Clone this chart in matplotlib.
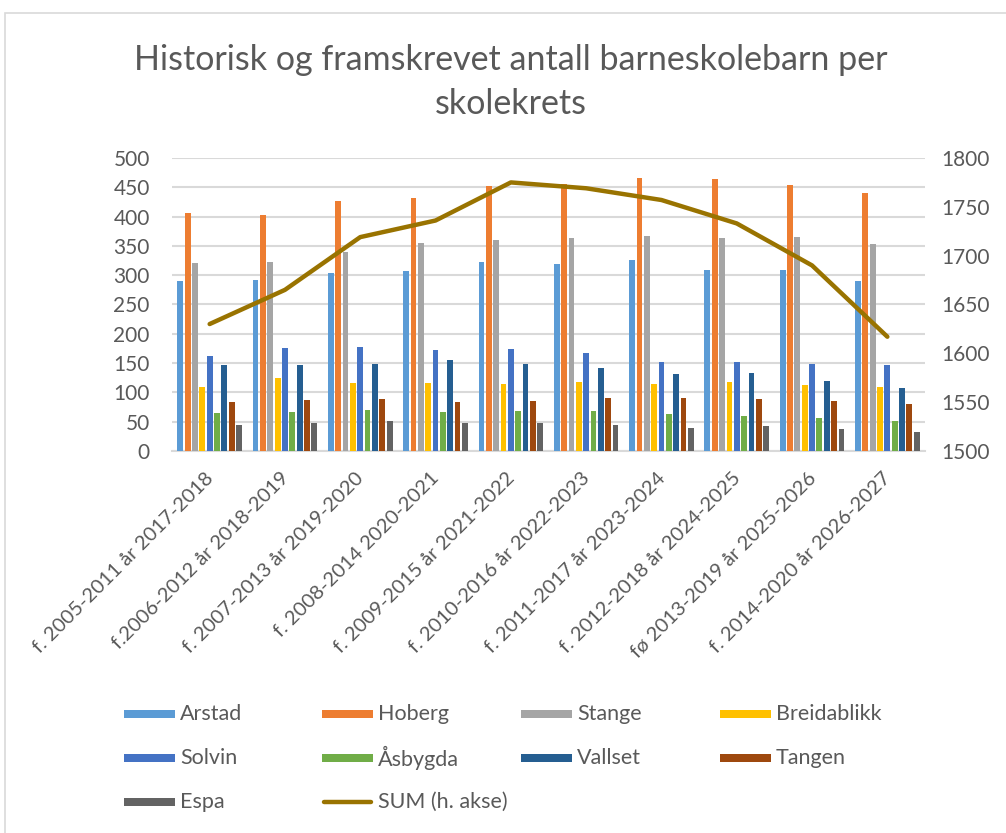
import matplotlib
matplotlib.use("Agg")
import matplotlib.pyplot as plt
import numpy as np
from matplotlib.lines import Line2D
from matplotlib.patches import Rectangle
from matplotlib.transforms import ScaledTranslation

plt.rcParams['font.family'] = ['Lato', 'DejaVu Sans']

categories = [
    "f. 2005-2011 år 2017-2018",
    "f.2006-2012 år 2018-2019",
    "f. 2007-2013 år 2019-2020",
    "f. 2008-2014 2020-2021",
    "f. 2009-2015 år 2021-2022",
    "f. 2010-2016 år 2022-2023",
    "f. 2011-2017 år 2023-2024",
    "f. 2012-2018 år 2024-2025",
    "fø 2013-2019 år 2025-2026",
    "f. 2014-2020 år 2026-2027",
]

arstad      = [290, 292, 303, 308, 322, 319, 326, 309, 309, 290]
hoberg      = [406, 403, 426, 432, 453, 456, 466, 464, 454, 441]
stange      = [321, 323, 339, 355, 360, 364, 367, 363, 365, 354]
breidablikk = [110, 124, 116, 116, 114, 118, 114, 118, 113, 110]
solvin      = [162, 176, 177, 173, 174, 167, 152, 152, 148, 147]
asbygda     = [65, 66, 70, 66, 68, 68, 63, 59, 57, 51]
vallset     = [146, 146, 148, 155, 148, 141, 132, 133, 120, 108]
tangen      = [83, 87, 88, 84, 85, 90, 91, 89, 86, 80]
espa        = [45, 47, 51, 48, 47, 45, 40, 42, 37, 33]
sum_total   = [1630, 1665, 1719, 1736, 1775, 1769, 1757, 1733, 1690, 1617]

series_names = ["Arstad", "Hoberg", "Stange", "Breidablikk", "Solvin",
                "Åsbygda", "Vallset", "Tangen", "Espa"]
series_values = [arstad, hoberg, stange, breidablikk, solvin,
                 asbygda, vallset, tangen, espa]
colors = ["#5B9BD5", "#ED7D31", "#A5A5A5", "#FFC000", "#4472C4",
          "#70AD47", "#255E91", "#9E480E", "#636363"]
sum_label = "SUM (h. akse)"
sum_color = "#997300"

text_color = "#595959"
grid_color = "#D9D9D9"

W, H = 1006, 833
fig = plt.figure(figsize=(W / 100, H / 100), dpi=100)
fig.patch.set_facecolor("white")

# chart frame
fig.add_artist(Rectangle((5 / W, -0.05), 1.1, 1 - 13 / H + 0.05,
                         transform=fig.transFigure, fill=False,
                         edgecolor="#D9D9D9", lw=1.2))

ax = fig.add_axes([172 / W, 1 - 451 / H, (925 - 172) / W, (451 - 158) / H])
x = np.arange(len(categories))
n = len(series_names)
pitch = 0.0975
width = 0.077
for i, (name, vals, c) in enumerate(zip(series_names, series_values, colors)):
    ax.bar(x + (i - (n - 1) / 2) * pitch, vals, width=width, color=c,
           label=name, zorder=3)

ax.set_xlim(-0.5, len(categories) - 0.5)
ax.set_ylim(0, 500)
ax.set_yticks(np.arange(0, 501, 50))
ax.yaxis.grid(True, color=grid_color, lw=1.5, zorder=0)
ax.set_axisbelow(True)
for s in ["top", "left", "right"]:
    ax.spines[s].set_visible(False)
ax.spines["bottom"].set_color(grid_color)
ax.spines["bottom"].set_linewidth(1.5)
ax.tick_params(axis="y", length=0, pad=16, labelsize=15, labelcolor=text_color)
ax.set_xticks(x)
ax.set_xticklabels(categories, rotation=45, ha="right", va="top",
                   rotation_mode="anchor", fontsize=14.5, color=text_color)
ax.tick_params(axis="x", length=0, pad=13)
offset = ScaledTranslation(-5 / 100, 0 / 100, fig.dpi_scale_trans)
for lbl in ax.get_xticklabels():
    lbl.set_transform(lbl.get_transform() + offset)

ax2 = ax.twinx()
ax2.plot(x, sum_total, color=sum_color, lw=3.2, solid_capstyle="round",
         solid_joinstyle="round", zorder=5)
ax2.set_ylim(1500, 1800)
ax2.set_yticks(np.arange(1500, 1801, 50))
for s in ["top", "left", "right", "bottom"]:
    ax2.spines[s].set_visible(False)
ax2.tick_params(axis="y", length=0, pad=12, labelsize=15, labelcolor=text_color)

fig.text(511 / W, 1 - 82 / H,
         "Historisk og framskrevet antall barneskolebarn per\nskolekrets",
         ha="center", va="center", fontsize=24.5, color=text_color,
         linespacing=1.45)

# legend (row-major, 4 columns)
labels = series_names + [sum_label]
handle_colors = colors + [sum_color]
col_x = [124, 322, 521, 720]
row_y = [714, 758, 802]
for k, (lab, c) in enumerate(zip(labels, handle_colors)):
    r, cidx = divmod(k, 4)
    x0 = col_x[cidx] / W
    y0 = 1 - row_y[r] / H
    if lab == sum_label:
        fig.add_artist(Line2D([x0 + 2 / W, x0 + 49 / W], [y0, y0],
                              transform=fig.transFigure, color=c, lw=3.2,
                              solid_capstyle="round"))
    else:
        fig.add_artist(Rectangle((x0, y0 - 4 / H), 51 / W, 8 / H,
                                 transform=fig.transFigure, color=c, lw=0))
    fig.text(x0 + 56 / W, y0, lab, ha="left", va="center", fontsize=15.5,
             color=text_color)

fig.savefig("out.png", dpi=100)
